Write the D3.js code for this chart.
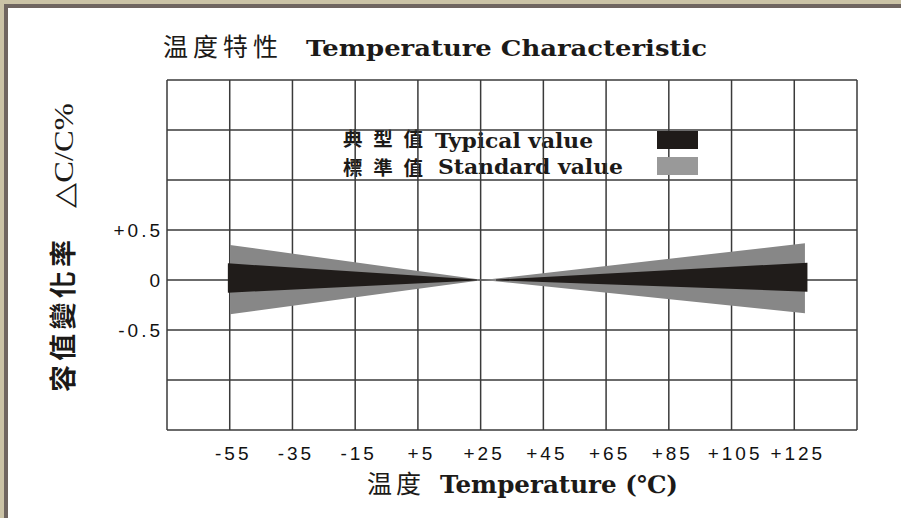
<!DOCTYPE html>
<html>
<head>
<meta charset="utf-8">
<script src="https://cdn.jsdelivr.net/npm/d3@7"></script>
<style>
body { margin: 0; background: #fff; }
.tick text { font-family: "Liberation Sans", Arial, sans-serif; font-size: 19px; letter-spacing: 3px; fill: #111; }
</style>
</head>
<body>
<div id="chart"></div>
<script>
/*
Data
*/
const tempTicks = [-55, -35, -15, 5, 25, 45, 65, 85, 105, 125];
const tempLabels = ["-55", "-35", "-15", "+5", "+25", "+45", "+65", "+85", "+105", "+125"];
const capTicks = [0.5, 0, -0.5];
const capLabels = ["+0.5", "0", "-0.5"];

// temperature (C), upper / lower limit of dC/C %
const typicalCold = [{t: -55.6, hi: 0.167, lo: -0.127}, {t: 23.8, hi: 0.004, lo: -0.004}];
const typicalHot = [{t: 29.9, hi: 0.004, lo: -0.004}, {t: 129.2, hi: 0.173, lo: -0.117}];
const standardBand = [{t: -54.9, hi: 0.35, lo: -0.343}, {t: 25.8, hi: 0, lo: 0}, {t: 128.4, hi: 0.367, lo: -0.333}];

const W = 901, H = 518;
const serif = "'DejaVu Serif', serif";
const cjk = "'Noto Sans CJK TC', sans-serif";
const ink = "#1c1a18";

const svg = d3.select("#chart").append("svg")
    .attr("width", W).attr("height", H);

// window-ish frame on top and left
svg.append("rect").attr("x", 0).attr("y", 0).attr("width", W).attr("height", 4).attr("fill", "#cbc3a6");
svg.append("rect").attr("x", 0).attr("y", 0).attr("width", 4).attr("height", H).attr("fill", "#cbc3a6");
svg.append("rect").attr("x", 4).attr("y", 4).attr("width", W - 4).attr("height", 4).attr("fill", "#6f6560");
svg.append("rect").attr("x", 4).attr("y", 4).attr("width", 4).attr("height", H - 4).attr("fill", "#6f6560");

const x = d3.scaleLinear().domain([-75, 145]).range([167, 857]);
const y = d3.scaleLinear().domain([-1.5, 2]).range([430, 80]);

/*
Titles
*/
svg.append("text").attr("x", 163).attr("y", 56)
    .attr("font-family", cjk).attr("font-size", 25).attr("fill", ink)
    .attr("textLength", 115).attr("lengthAdjust", "spacing")
    .text("温度特性");
svg.append("text").attr("x", 306).attr("y", 56)
    .attr("font-family", serif).attr("font-weight", "bold").attr("font-size", 22).attr("fill", ink)
    .attr("textLength", 401).attr("lengthAdjust", "spacingAndGlyphs")
    .text("Temperature Characteristic");

svg.append("text").attr("x", 367).attr("y", 493)
    .attr("font-family", cjk).attr("font-size", 25).attr("fill", ink)
    .attr("textLength", 54).attr("lengthAdjust", "spacing")
    .text("温度");
svg.append("text").attr("x", 440).attr("y", 493)
    .attr("font-family", serif).attr("font-weight", "bold").attr("font-size", 24).attr("fill", ink)
    .attr("textLength", 238).attr("lengthAdjust", "spacingAndGlyphs")
    .text("Temperature (℃)");

const ylab = svg.append("g").attr("transform", "translate(73,0) rotate(-90)");
ylab.append("text").attr("x", -392).attr("y", 0)
    .attr("font-family", cjk).attr("font-weight", "bold").attr("font-size", 27).attr("fill", ink)
    .attr("textLength", 152).attr("lengthAdjust", "spacing")
    .text("容值變化率");
ylab.append("text").attr("x", -208).attr("y", 0)
    .attr("font-family", "'Liberation Serif', serif").attr("font-size", 27).attr("fill", ink)
    .attr("textLength", 105).attr("lengthAdjust", "spacingAndGlyphs")
    .text("△C/C%");

/*
Legend text (grid is drawn over it)
*/
const legend = [
    {zh: "典型值", en: "Typical value", enX: 435, enLen: 158, color: "#1f1b19", base: 148, zhBase: 146},
    {zh: "標準值", en: "Standard value", enX: 438, enLen: 185, color: "#999999", base: 174, zhBase: 175}
];
legend.forEach(d => {
    svg.append("text").attr("x", 343).attr("y", d.zhBase)
        .attr("font-family", cjk).attr("font-weight", "bold").attr("font-size", 19.5)
        .attr("textLength", 80).attr("lengthAdjust", "spacing").attr("fill", ink)
        .text(d.zh);
    svg.append("text").attr("x", d.enX).attr("y", d.base)
        .attr("font-family", serif).attr("font-weight", "bold").attr("font-size", 20).attr("fill", ink)
        .attr("textLength", d.enLen).attr("lengthAdjust", "spacingAndGlyphs")
        .text(d.en);
});

/*
Grid
*/
const g_grid = svg.append("g").attr("stroke", "#3a3a3a").attr("stroke-width", 1.5);
g_grid.selectAll("line.v").data(d3.range(-75, 146, 20)).enter()
    .append("line").classed("v", true)
    .attr("x1", d => x(d)).attr("x2", d => x(d))
    .attr("y1", y(2)).attr("y2", y(-1.5));
g_grid.selectAll("line.h").data(d3.range(-1.5, 2.01, 0.5)).enter()
    .append("line").classed("h", true)
    .attr("x1", x(-75)).attr("x2", x(145))
    .attr("y1", d => y(d)).attr("y2", d => y(d));

/*
Bands
*/
const area = d3.area()
    .x(d => x(d.t))
    .y0(d => y(d.lo))
    .y1(d => y(d.hi));

svg.append("path").datum(standardBand).attr("d", area).attr("fill", "#878787");
svg.append("path").datum(typicalCold).attr("d", area).attr("fill", "#201c1a");
svg.append("path").datum(typicalHot).attr("d", area).attr("fill", "#201c1a");

// legend swatches
svg.selectAll("rect.swatch").data(legend).enter()
    .append("rect").classed("swatch", true)
    .attr("x", 657).attr("y", d => d.base - 17)
    .attr("width", 41).attr("height", 18)
    .attr("fill", d => d.color);

/*
Axes
*/
const xAxis = d3.axisBottom(x)
    .tickValues(tempTicks)
    .tickFormat((d, i) => tempLabels[i])
    .tickSize(0).tickPadding(17);
svg.append("g").attr("transform", `translate(3,${y(-1.5)})`).call(xAxis)
    .call(g => g.select(".domain").remove());

const yAxis = d3.axisLeft(y)
    .tickValues(capTicks)
    .tickFormat((d, i) => capLabels[i])
    .tickSize(0).tickPadding(4);
svg.append("g").attr("transform", `translate(${x(-75)},0)`).call(yAxis)
    .call(g => g.select(".domain").remove());
</script>
</body>
</html>
